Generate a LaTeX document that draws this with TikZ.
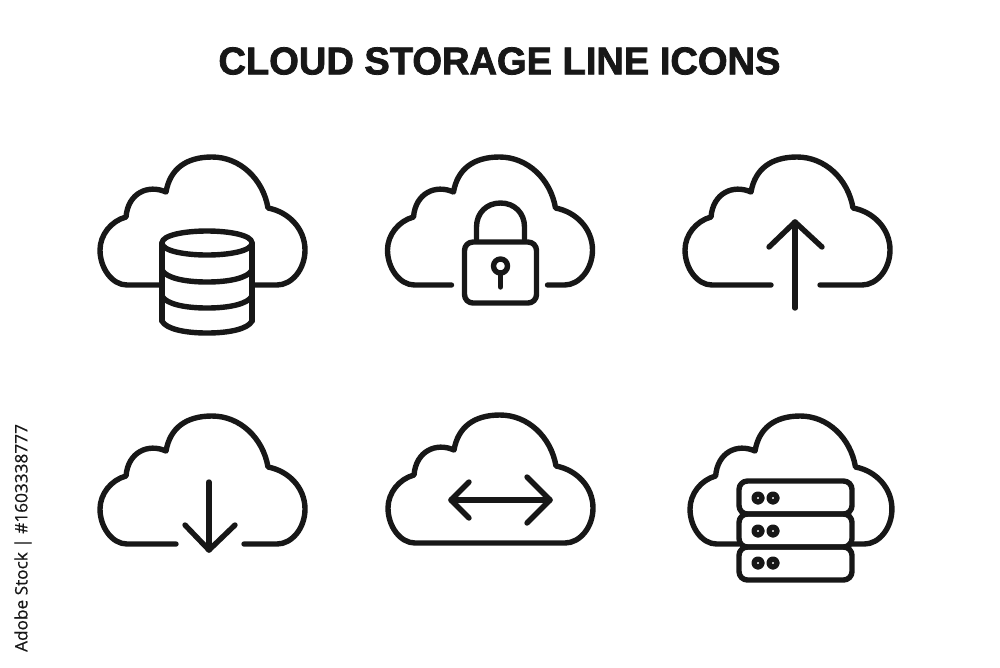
\documentclass[tikz,border=0pt]{standalone}
\usepackage{fontspec}
\usepackage{tikz}
\setmainfont{Liberation Sans}
\newfontfamily\titlefont[FakeBold=2,FakeStretch=0.985]{Liberation Sans Bold}
\newfontfamily\stockfont[FakeBold=0.5]{Open Sans}

\definecolor{iconink}{HTML}{171717}

\tikzset{
    iconline/.style={draw=iconink, line width=0.108cm, line cap=round, line join=round},
    thinbox/.style={iconline, rounded corners=0.17cm},
}

% cloud outline, open at the bottom between #1 (right end) and #2 (left end)
\newcommand{\cloudline}[2]{
    \draw[iconline] (#1,128) -- (177,128)
        .. controls (192,128) and (205,112) .. (205,93)
        .. controls (205,72) and (189,55) .. (168,51)
        .. controls (163,22) and (140,0) .. (112,0)
        .. controls (86,0) and (70,12) .. (66,35)
        .. controls (48,27) and (28,36) .. (26,60)
        .. controls (11,64) and (0,78) .. (0,93)
        .. controls (0,111) and (12,128) .. (27,128)
        -- (#2,128);
}

\begin{document}
\begin{tikzpicture}[x=0.02cm, y=-0.02cm]
    \useasboundingbox (0,0) rectangle (1000,667);

    % Title
    \node[text=iconink, font=\titlefont\fontsize{22}{24}\selectfont] (title) at (499.5,61) {CLOUD STORAGE LINE ICONS};

    % Side tag
    \node[text=iconink, rotate=90, font=\stockfont\fontsize{9.8}{11}\selectfont] (stocktag) at (23,538) {Adobe Stock | \#1603338777};

    % Cloud 1 (database)
    \begin{scope}[shift={(100,157)}]
        \cloudline{152}{62}
        \draw[iconline] (62,86) .. controls (62,78) and (85,74) .. (107,74) .. controls (129,74) and (152,78) .. (152,86) .. controls (152,94) and (129,98) .. (107,98) .. controls (85,98) and (62,94) .. (62,86) -- cycle;
        \draw[iconline] (62,86) -- (62,164);
        \draw[iconline] (152,86) -- (152,164);
        \foreach \y in {113,139,164} {
            \draw[iconline] (62,\y) .. controls (66,\y+8) and (85,\y+12) .. (107,\y+12) .. controls (129,\y+12) and (148,\y+8) .. (152,\y);
        }
    \end{scope}

    % Cloud 2 (padlock)
    \begin{scope}[shift={(387.5,157)}]
        \cloudline{160}{64}
        \draw[thinbox] (77,85) rectangle (149,146);
        \draw[iconline] (89,82) -- (89,70) .. controls (89,56) and (99,46) .. (113,46) .. controls (127,46) and (137,56) .. (137,70) -- (137,82);
        \draw[iconline] (113,109) circle (7);
        \draw[iconline] (113,116) -- (113,130);
    \end{scope}

    % Cloud 3 (arrow up)
    \begin{scope}[shift={(685,157)}]
        \cloudline{135}{86}
        \draw[iconline] (110,65) -- (110,151);
        \draw[iconline] (84,90) -- (110,65) -- (137,90);
    \end{scope}

    % Cloud 4 (arrow down)
    \begin{scope}[shift={(100,416)}]
        \cloudline{144}{76}
        \draw[iconline] (109,66) -- (109,134);
        \draw[iconline] (85,109) -- (109,134) -- (135,109);
    \end{scope}

    % Cloud 5 (two way arrow)
    \begin{scope}[shift={(388,415)}]
        \cloudline{100}{100}
        \draw[iconline] (63,85) -- (162,85);
        \draw[iconline] (81,67) -- (63,85) -- (81,103);
        \draw[iconline] (139,62) -- (162,85) -- (139,108);
    \end{scope}

    % Cloud 6 (server rack)
    \begin{scope}[shift={(690,416)}]
        \begin{scope}[xscale=0.985]
            \cloudline{162}{49}
        \end{scope}
        \foreach \y in {65,98,131} {
            \draw[thinbox] (49,\y) rectangle (162,\y+33);
        }
        \foreach \y in {82,115,147} {
            \draw[iconline] (68,\y) circle (4);
            \draw[iconline] (83,\y) circle (4);
        }
    \end{scope}
\end{tikzpicture}
\end{document}
